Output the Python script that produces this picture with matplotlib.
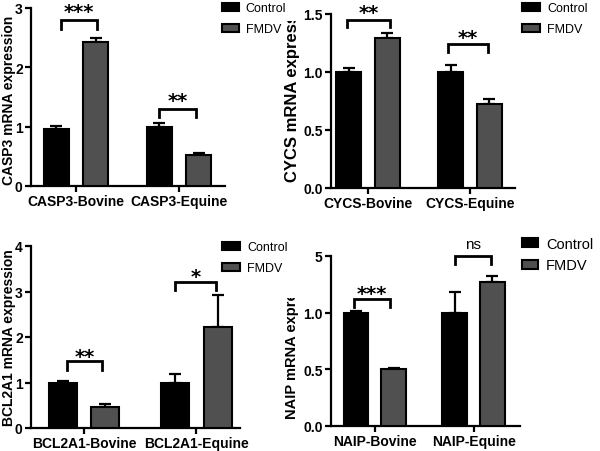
import matplotlib
matplotlib.use("Agg")
import matplotlib.pyplot as plt
from matplotlib.transforms import Bbox

plt.rcParams['font.family'] = ['Liberation Sans', 'DejaVu Sans']

W, H = 600, 452

groups = ["Bovine", "Equine"]
series = ["Control", "FMDV"]

casp3_mean = [[0.96, 1.00], [2.43, 0.53]]
casp3_err = [[0.05, 0.07], [0.07, 0.02]]
cycs_mean = [[1.00, 1.00], [1.29, 0.72]]
cycs_err = [[0.035, 0.06], [0.05, 0.05]]
bcl2a1_mean = [[0.99, 1.00], [0.47, 2.22]]
bcl2a1_err = [[0.045, 0.19], [0.05, 0.70]]
naip_mean = [[0.995, 1.00], [0.50, 1.27]]
naip_err = [[0.02, 0.18], [0.012, 0.05]]

casp3_sig = ["***", "**"]
cycs_sig = ["**", "**"]
bcl2a1_sig = ["**", "*"]
naip_sig = ["***", "ns"]

casp3_yticks = [0, 1, 2, 3]
casp3_ylabels = ["0", "1", "2", "3"]
cycs_yticks = [0, 0.5, 1.0, 1.5]
cycs_ylabels = ["0.0", "0.5", "1.0", "1.5"]
bcl2a1_yticks = [0, 1, 2, 3, 4]
bcl2a1_ylabels = ["0", "1", "2", "3", "4"]
naip_yticks = [0, 0.5, 1.0, 1.5]
naip_ylabels = ["0.0", "0.5", "1.0", "5"]

colors = ["#000000", "#505050"]

fig = plt.figure(figsize=(6, 4.52), dpi=100)


def axbox(l, r, t, b):
    return [l / W, 1 - b / H, (r - l) / W, (b - t) / H]


def panel(box, gene, mean, err, sig, yticks, ylabels, ylim, xlim,
          brackets, legend_xy, legend_fs, legend_hl, legend_ls):
    ax = fig.add_axes(axbox(*box))
    off, bw = 0.19, 0.25
    conts = []
    for i, s in enumerate(series):
        xs = [g + (-off if i == 0 else off) for g in range(len(groups))]
        c = ax.bar(xs, mean[i], width=bw, color=colors[i], edgecolor="black",
                   linewidth=1.5, zorder=3, label=s)
        ax.errorbar(xs, mean[i], yerr=[[0] * len(groups), err[i]], fmt="none",
                    ecolor="black", elinewidth=1.6, capsize=4.5, capthick=1.6,
                    zorder=2)
        conts.append(c)
    for g, (x0, x1, yb, yt, ys) in enumerate(brackets):
        ax.plot([g + x0, g + x0, g + x1, g + x1], [yb, yt, yt, yb], color="black",
                lw=2.0, solid_joinstyle="miter", clip_on=False, zorder=4)
        if sig[g] == "ns":
            ax.text(g + (x0 + x1) / 2, ys, sig[g], ha="center", va="center",
                    fontsize=11, clip_on=False)
        else:
            ax.text(g + (x0 + x1) / 2, ys, sig[g], ha="center", va="top",
                    fontsize=14, fontweight="bold", family="DejaVu Sans",
                    clip_on=False)
    ax.set_xlim(*xlim)
    ax.set_ylim(*ylim)
    ax.set_xticks(range(len(groups)))
    ax.set_xticklabels([f"{gene}-{g}" for g in groups], fontsize=10,
                       fontweight="bold")
    ax.set_yticks(yticks)
    ax.set_yticklabels(ylabels, fontsize=10, fontweight="bold")
    for s in ["top", "right"]:
        ax.spines[s].set_visible(False)
    for s in ["left", "bottom"]:
        ax.spines[s].set_linewidth(1.6)
    ax.tick_params(axis="both", direction="out", length=4.5, width=1.6, pad=1.5)
    lx, ly = legend_xy
    ax.legend(handles=conts, labels=series, loc="upper left",
              bbox_to_anchor=(lx / W, 1 - ly / H), bbox_transform=fig.transFigure,
              frameon=False, borderpad=0, borderaxespad=0, fontsize=legend_fs,
              handlelength=legend_hl, handleheight=0.6, handletextpad=0.55,
              labelspacing=legend_ls)
    return ax


panel((31, 225, 9, 187), "CASP3", casp3_mean, casp3_err, casp3_sig,
      casp3_yticks, casp3_ylabels, (0, 3), (-0.437, 1.447),
      [(-0.15, 0.2, 2.65, 2.80, 3.10), (-0.19, 0.17, 1.17, 1.30, 1.60)],
      (222, 3), 9, 1.35, 0.75)
panel((331, 515, 15, 189), "CYCS", cycs_mean, cycs_err, cycs_sig,
      cycs_yticks, cycs_ylabels, (0, 1.5), (-0.363, 1.44),
      [(-0.21, 0.22, 1.385, 1.45, 1.595), (-0.22, 0.18, 1.17, 1.24, 1.38)],
      (522, 3), 9, 1.45, 0.75)
panel((31, 240, 247, 429), "BCL2A1", bcl2a1_mean, bcl2a1_err, bcl2a1_sig,
      bcl2a1_yticks, bcl2a1_ylabels, (0, 4), (-0.473, 1.39),
      [(-0.155, 0.16, 1.28, 1.47, 1.79), (-0.19, 0.18, 3.03, 3.21, 3.53)],
      (222, 242), 9, 1.45, 0.75)
panel((331, 520, 257, 427), "NAIP", naip_mean, naip_err, naip_sig,
      naip_yticks, naip_ylabels, (0, 1.5), (-0.444, 1.47),
      [(-0.21, 0.15, 1.05, 1.12, 1.25), (-0.19, 0.18, 1.43, 1.50, 1.61)],
      (522, 238), 10.5, 1.1, 0.5)

# y-axis labels
fig.text(9 / W, 1 - 100 / H, "CASP3 mRNA expression", rotation=90,
         ha="center", va="center", fontsize=10, fontweight="bold")
fig.text(9 / W, 1 - 338 / H, "BCL2A1 mRNA expression", rotation=90,
         ha="center", va="center", fontsize=10, fontweight="bold")
t1 = fig.text(292 / W, 1 - 182 / H, "CYCS mRNA expression", rotation=90,
              ha="center", va="bottom", fontsize=12, fontweight="bold")
t1.set_clip_box(Bbox.from_extents(0, 0, W, H - 22))
t1.set_clip_on(True)
t2 = fig.text(292 / W, 1 - 419 / H, "NAIP mRNA expression", rotation=90,
              ha="center", va="bottom", fontsize=10.5, fontweight="bold")
t2.set_clip_box(Bbox.from_extents(0, 0, W, H - 299))
t2.set_clip_on(True)

fig.savefig("out.png", dpi=100)
